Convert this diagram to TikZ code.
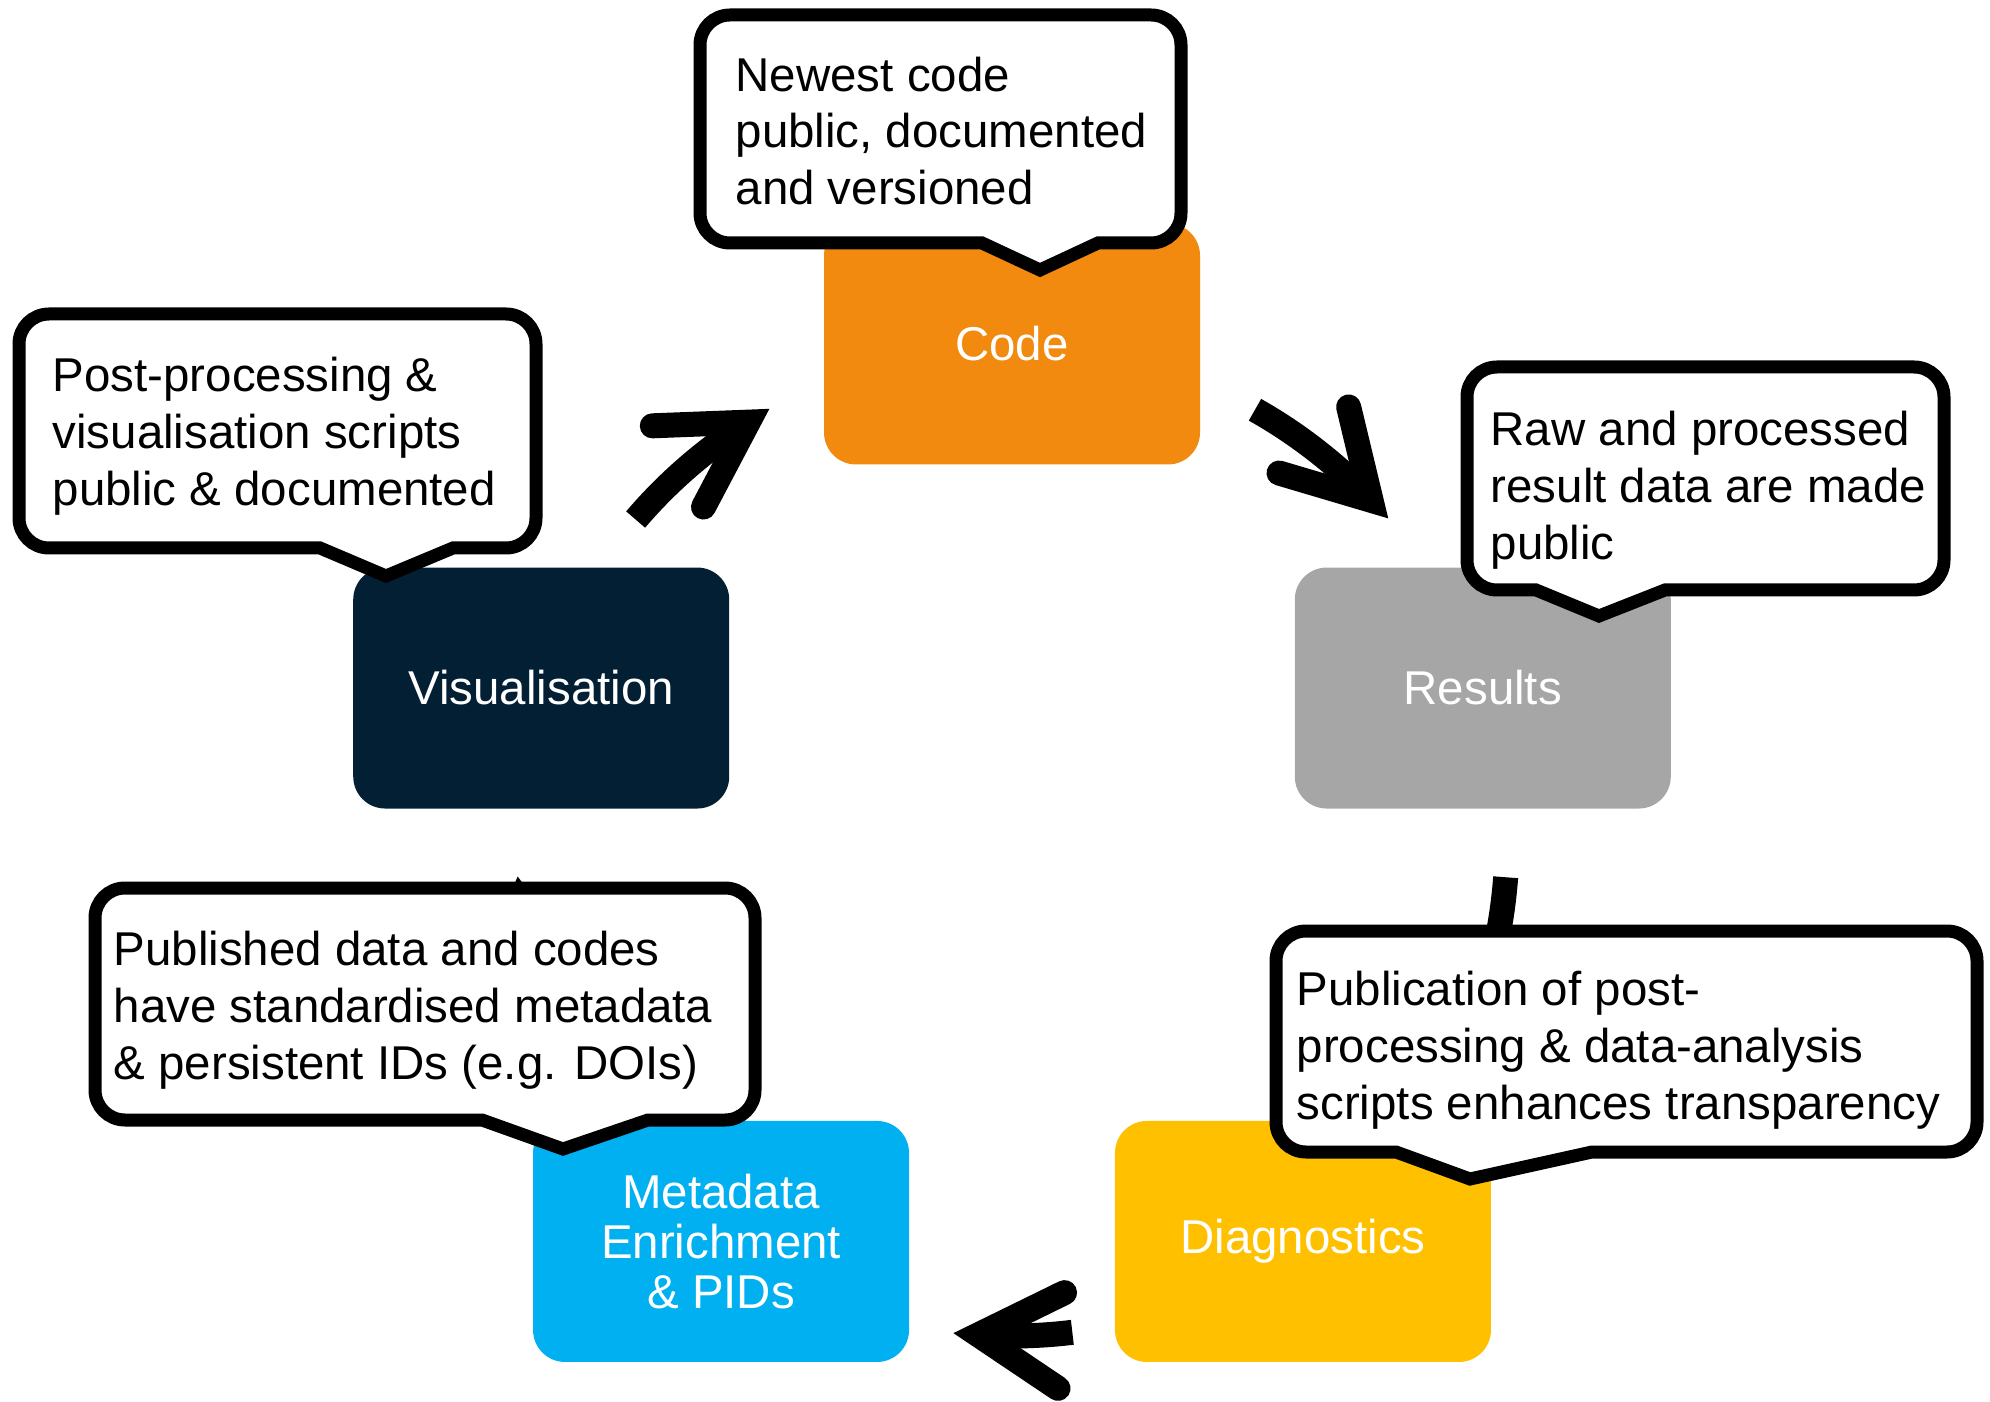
\documentclass[tikz,border=0pt]{standalone}
\usepackage{fontspec}
\setmainfont{Liberation Sans}
\usetikzlibrary{calc}

\definecolor{codeorange}{HTML}{F18A0E}
\definecolor{resgrey}{HTML}{A6A6A6}
\definecolor{diagyellow}{HTML}{FFC000}
\definecolor{metablue}{HTML}{00B0F0}
\definecolor{visnavy}{HTML}{031F33}

\tikzset{
  stage/.style={rectangle, rounded corners=3.2mm, minimum width=3.76cm, minimum height=2.41cm,
    inner sep=0pt, text=white, align=center, font=\fontsize{13.5}{14.2}\selectfont},
  bubble/.style={draw=black, fill=white, line width=1.3mm, rounded corners=3mm, line join=miter},
  note/.style={anchor=west, inner sep=0pt, align=left, font=\fontsize{13.5}{16.2}\selectfont},
  flow/.style={line width=2.5mm},
}

\begin{document}
\begin{tikzpicture}[x=0.1mm, y=0.1mm]
\useasboundingbox (0,0) rectangle (1990,1401);
\coordinate (c) at (1012,560);

% arrows round the cycle: tail angle / tip angle
\foreach \a/\b in {139.5/122.2, 60.6/43.5, -4.2/-28, -83/-93.9, 207/187}{
  \draw[flow] ($(c)+(\a:495)$) arc[start angle=\a, end angle=\b, radius=495];
  \draw[flow, line cap=round, line join=miter] ($(c)+(\b:495)+(\b+60:96)$) -- ($(c)+(\b:495)$) -- ++(\b+120:96);
}

% stages
\node[stage, fill=codeorange] (code) at ($(c)+(90:497)$) {Code};
\node[stage, fill=resgrey] (results) at ($(c)+(18:495)$) {Results};
\node[stage, fill=diagyellow] (diag) at ($(c)+(-54:495)$) {Diagnostics};
\node[stage, fill=metablue] (meta) at ($(c)+(-126:495)$) {Metadata\\Enrichment\\\& PIDs};
\node[stage, fill=visnavy] (vis) at ($(c)+(162:495)$) {Visualisation};

% call-outs
\draw[bubble] (940,1386) -- (1181,1386) -- (1181,1158) [sharp corners] -- (1098,1158) -- (1040,1131) -- (982,1158) [rounded corners=3mm] -- (700,1158) -- (700,1386) -- cycle;
\node[note] (codenote) at (735,1270) {Newest code\\public, documented\\and versioned};

\draw[bubble] (280,1087) -- (536,1087) -- (536,853) [sharp corners] -- (453,853) -- (386,825) -- (320,853) [rounded corners=3mm] -- (19,853) -- (19,1087) -- cycle;
\node[note] (visnote) at (52,965) {Post-processing \&\\visualisation scripts\\public \& documented};

\draw[bubble] (1700,1034) -- (1944,1034) -- (1944,811) [sharp corners] -- (1665,811) -- (1599,785) -- (1536,811) [rounded corners=3mm] -- (1467,811) -- (1467,1034) -- cycle;
\node[note] (resnote) at (1490,911) {Raw and processed\\result data are made\\public};

\draw[bubble] (420,513) -- (755,513) -- (755,281) [sharp corners] -- (648,281) -- (563,252) -- (482,281) [rounded corners=3mm] -- (95,281) -- (95,513) -- cycle;
\node[note] (metanote) at (113,391) {Published data and codes\\have standardised metadata\\\& persistent IDs (e.g. DOIs)};

\draw[bubble] (1620,470) -- (1977,470) -- (1977,249) [sharp corners] -- (1592,249) -- (1470,222) -- (1396,249) [rounded corners=3mm] -- (1276,249) -- (1276,470) -- cycle;
\node[note] (diagnote) at (1296,351) {Publication of post-\\processing \& data-analysis\\scripts enhances transparency};
\end{tikzpicture}
\end{document}
